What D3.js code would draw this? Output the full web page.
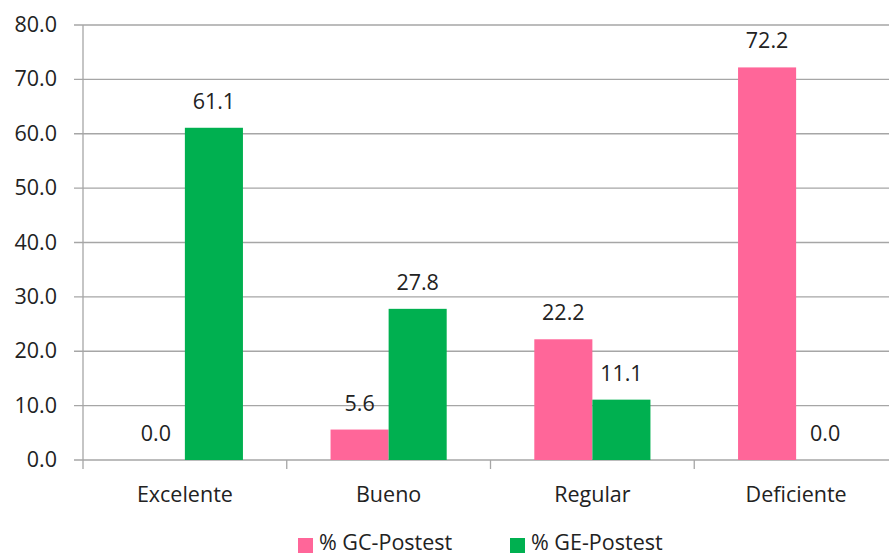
<!DOCTYPE html>
<html><head><meta charset="utf-8">
<script src="https://cdn.jsdelivr.net/npm/d3@7"></script>
<style>body{margin:0;background:#fff}svg{display:block}text{font-family:"Open Sans",sans-serif;fill:#222}</style>
</head><body><svg id="c" width="889" height="553"></svg>
<script>
const categories = ["Excelente","Bueno","Regular","Deficiente"];
const seriesNames = ["% GC-Postest","% GE-Postest"];
const gcValues = [0.0, 5.6, 22.2, 72.2];
const geValues = [61.1, 27.8, 11.1, 0.0];
const yTicks = [0,10,20,30,40,50,60,70,80];
const colors = ["#FF6699","#00B050"];

(function(){
const svg = d3.select("#c");
const pL = 83, pR = 898, pT = 25, pB = 460;
const fs = "21.5px";
const x0 = d3.scaleBand().domain(categories).range([pL,pR]).paddingInner(0.43).paddingOuter(0.215);
const x1 = d3.scaleBand().domain(seriesNames).range([0,x0.bandwidth()]);
const y = d3.scaleLinear().domain([0,80]).range([pB,pT]);
const edges = d3.scaleLinear().domain([0,4]).range([pL,pR]);

svg.append("g").selectAll("line").data(yTicks).join("line")
  .attr("x1",pL-9).attr("x2",pR).attr("y1",d=>y(d)).attr("y2",d=>y(d))
  .attr("stroke","#A6A6A6").attr("stroke-width",1.3);
svg.append("line").attr("x1",pL).attr("x2",pL).attr("y1",pT).attr("y2",pB)
  .attr("stroke","#A6A6A6").attr("stroke-width",1.3);
svg.append("g").selectAll("text").data(yTicks).join("text")
  .attr("x",57).attr("y",d=>y(d)+7).attr("text-anchor","end")
  .style("font-size",fs).text(d=>d.toFixed(1));
svg.append("g").selectAll("line").data(d3.range(5)).join("line")
  .attr("x1",d=>edges(d)).attr("x2",d=>edges(d)).attr("y1",pB).attr("y2",pB+9)
  .attr("stroke","#A6A6A6").attr("stroke-width",1.3);
svg.append("g").selectAll("text").data(categories).join("text")
  .attr("x",d=>x0(d)+x0.bandwidth()/2).attr("y",502).attr("text-anchor","middle")
  .style("font-size",fs).text(d=>d);

const rows = categories.map((c,i)=>({c, vals:[gcValues[i],geValues[i]]}));
const g = svg.append("g").selectAll("g").data(rows).join("g")
  .attr("transform",d=>`translate(${x0(d.c)},0)`);
g.selectAll("rect").data(d=>d.vals.map((v,j)=>({v,s:seriesNames[j],j}))).join("rect")
  .attr("x",d=>x1(d.s)).attr("width",x1.bandwidth())
  .attr("y",d=>y(d.v)).attr("height",d=>pB-y(d.v)).attr("fill",d=>colors[d.j]);
g.selectAll("text").data(d=>d.vals.map((v,j)=>({v,s:seriesNames[j],j}))).join("text")
  .attr("x",d=>x1(d.s)+x1.bandwidth()/2).attr("y",d=>y(d.v)-19).attr("text-anchor","middle")
  .style("font-size",fs).text(d=>d.v.toFixed(1));

const leg = svg.append("g");
const legX = [298,510];
seriesNames.forEach((s,i)=>{
  leg.append("rect").attr("x",legX[i]).attr("y",538).attr("width",15).attr("height",15).attr("fill",colors[i]);
  leg.append("text").attr("x",legX[i]+21).attr("y",550).style("font-size",fs).text(s);
});
})();
</script></body></html>
